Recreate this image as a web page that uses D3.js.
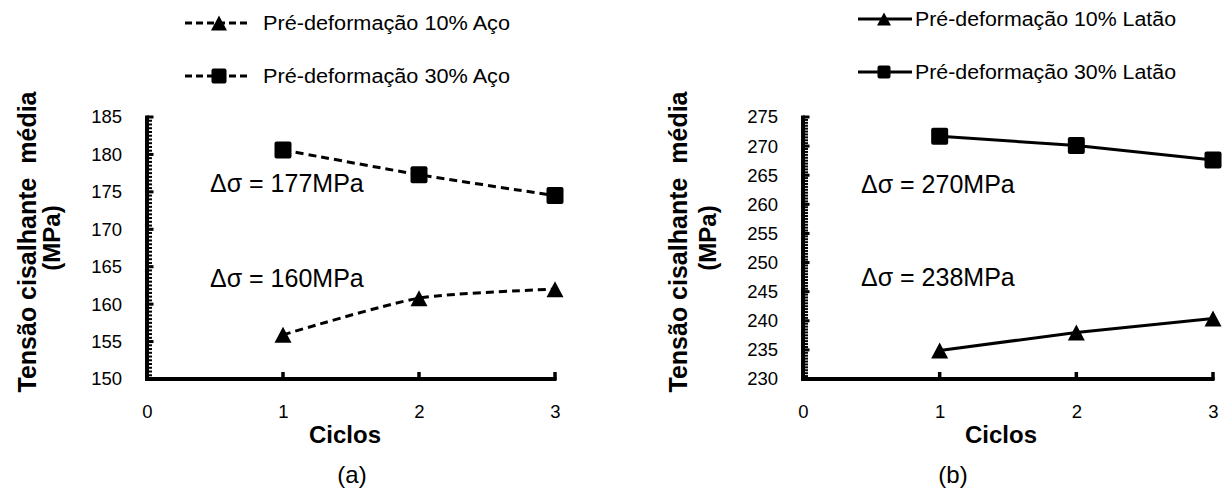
<!DOCTYPE html>
<html><head><meta charset="utf-8">
<script src="https://cdn.jsdelivr.net/npm/d3@7"></script>
<style>
body{margin:0;background:#fff}
svg text{font-family:Arial,"Liberation Sans",sans-serif;fill:#000}
</style>
</head><body>
<svg id="c" width="1223" height="496"></svg>
<script>
// ---- data ----
const cycles = [1, 2, 3];
const xTicks = [0, 1, 2, 3];
const steel10 = [155.9, 160.8, 162.0];
const steel30 = [180.6, 177.3, 174.5];
const brass10 = [234.9, 238.0, 240.4];
const brass30 = [271.7, 270.1, 267.6];
const steelYTicks = [150, 155, 160, 165, 170, 175, 180, 185];
const brassYTicks = [230, 235, 240, 245, 250, 255, 260, 265, 270, 275];
const steelNames = ["Pré-deformação 10% Aço", "Pré-deformação 30% Aço"];
const brassNames = ["Pré-deformação 10% Latão", "Pré-deformação 30% Latão"];
const steelNotes = ["Δσ = 177MPa", "Δσ = 160MPa"];
const brassNotes = ["Δσ = 270MPa", "Δσ = 238MPa"];
const steelNoteVals = [175.0, 162.3];
const brassNoteVals = [262.0, 245.9];
const yTitle = ["Tensão cisalhante  média", "(MPa)"];
const xTitle = "Ciclos";
const panelLabels = ["(a)", "(b)"];

const svg = d3.select("#c");

function triPath(w, h) { return `M0,${-h/2}L${w/2},${h/2}L${-w/2},${h/2}Z`; }

function drawMarker(g, type, x, y, s) {
  if (type === "square") {
    g.append("rect").attr("x", x - s/2).attr("y", y - s/2).attr("width", s).attr("height", s)
      .attr("rx", 2).attr("fill", "#000");
  } else {
    g.append("path").attr("d", triPath(s, s*0.94)).attr("transform", `translate(${x},${y})`).attr("fill", "#000");
  }
}

function panel(opt) {
  const g = svg.append("g");
  const x = d3.scaleLinear().domain([0, 3]).range(opt.xr);
  const y = d3.scaleLinear().domain(opt.yd).range([379, 117]);
  const x0 = opt.xr[0];

  // tick labels via d3 axes (lines drawn explicitly below)
  g.append("g").attr("transform", `translate(${x0},0)`)
    .call(d3.axisLeft(y).tickValues(opt.yTicks).tickSize(0).tickPadding(opt.yPad))
    .call(a => a.selectAll("path,line").remove())
    .call(a => a.selectAll("text").attr("font-size", 18.5));
  g.append("g").attr("transform", `translate(0,379)`)
    .call(d3.axisBottom(x).tickValues(xTicks).tickFormat(d3.format("d")).tickSize(0).tickPadding(26))
    .call(a => a.selectAll("path,line").remove())
    .call(a => a.selectAll("text").attr("font-size", 18.5));

  // minor y ticks
  const minor = d3.range(opt.yd[0], opt.yd[1] + 0.001, 0.5);
  g.append("g").selectAll("line").data(minor).join("line")
    .attr("x1", x0 - 1).attr("x2", x0 + 5).attr("y1", d => y(d)).attr("y2", d => y(d))
    .attr("stroke", "#000").attr("stroke-width", 2);
  // major y ticks
  g.append("g").selectAll("line").data(opt.yTicks).join("line")
    .attr("x1", x0).attr("x2", x0 + 6.5).attr("y1", d => y(d)).attr("y2", d => y(d))
    .attr("stroke", "#000").attr("stroke-width", 3);
  // x ticks
  g.append("g").selectAll("line").data(cycles).join("line")
    .attr("x1", d => x(d)).attr("x2", d => x(d)).attr("y1", 380).attr("y2", 372)
    .attr("stroke", "#000").attr("stroke-width", 3.5);
  // axis lines
  g.append("line").attr("x1", x0).attr("x2", x0).attr("y1", y(opt.yd[1]) - 1.5).attr("y2", 381)
    .attr("stroke", "#000").attr("stroke-width", 4);
  g.append("line").attr("x1", x0 - 2).attr("x2", x(3) + 1.5).attr("y1", 379).attr("y2", 379)
    .attr("stroke", "#000").attr("stroke-width", 4);

  // series
  opt.series.forEach((s, i) => {
    const line = d3.line().x((d, j) => x(cycles[j])).y(d => y(d)).curve(opt.curve);
    g.append("path").attr("d", line(s.values)).attr("fill", "none").attr("stroke", "#000")
      .attr("stroke-width", 3).attr("stroke-dasharray", opt.dash);
    s.values.forEach((v, j) => drawMarker(g, s.marker, x(cycles[j]), y(v), 17));
  });

  // annotations
  opt.notes.forEach((t, i) => {
    g.append("text").attr("x", opt.noteX).attr("y", y(opt.noteVals[i])).attr("font-size", 25).text(t);
  });

  // legend
  opt.series.forEach((s, i) => {
    const ly = opt.legY[i];
    g.append("line").attr("x1", opt.leg[0]).attr("x2", opt.leg[1]).attr("y1", ly).attr("y2", ly)
      .attr("stroke", "#000").attr("stroke-width", 3).attr("stroke-dasharray", opt.legDash);
    drawMarker(g, s.marker, opt.leg[2], ly, s.marker === "square" ? opt.legMk : opt.legMk + 1);
    g.append("text").attr("x", opt.leg[3]).attr("y", ly).attr("dy", "0.36em").attr("font-size", 20)
      .attr("textLength", opt.legW[i]).attr("lengthAdjust", "spacingAndGlyphs").text(s.name);
  });

  // y title
  g.append("text").attr("transform", `translate(${opt.titleX[0]},242) rotate(-90)`).attr("text-anchor", "middle")
    .attr("font-size", 25).attr("font-weight", "bold").style("white-space", "pre").text(yTitle[0]);
  g.append("text").attr("transform", `translate(${opt.titleX[1]},238) rotate(-90)`).attr("text-anchor", "middle")
    .attr("font-size", 24).attr("font-weight", "bold").text(yTitle[1]);

  // x title
  g.append("text").attr("x", opt.ciclosX).attr("y", 443).attr("text-anchor", "middle")
    .attr("font-size", 24).attr("font-weight", "bold").text(xTitle);
  // panel label
  g.append("text").attr("x", opt.labX).attr("y", 483).attr("text-anchor", "middle")
    .attr("font-size", 24).text(opt.label);
}

panel({
  xr: [147, 555], yd: [150, 185], yTicks: steelYTicks, yPad: 25,
  series: [{name: steelNames[0], values: steel10, marker: "tri"}, {name: steelNames[1], values: steel30, marker: "square"}],
  curve: d3.curveCardinal.tension(0.3), dash: "8,5",
  notes: steelNotes, noteVals: steelNoteVals, noteX: 210,
  leg: [185, 250, 219, 263], legY: [23, 76], legDash: "7,4", legMk: 15, legW: [247, 247],
  titleX: [36, 60], ciclosX: 345, labX: 352, label: panelLabels[0]
});
panel({
  xr: [803, 1213], yd: [230, 275], yTicks: brassYTicks, yPad: 25,
  series: [{name: brassNames[0], values: brass10, marker: "tri"}, {name: brassNames[1], values: brass30, marker: "square"}],
  curve: d3.curveLinear, dash: null,
  notes: brassNotes, noteVals: brassNoteVals, noteX: 861,
  leg: [858, 912, 884, 915], legY: [19, 72], legDash: null, legMk: 13, legW: [261, 261],
  titleX: [687, 716], ciclosX: 1001, labX: 953, label: panelLabels[1]
});
</script>
</body></html>
